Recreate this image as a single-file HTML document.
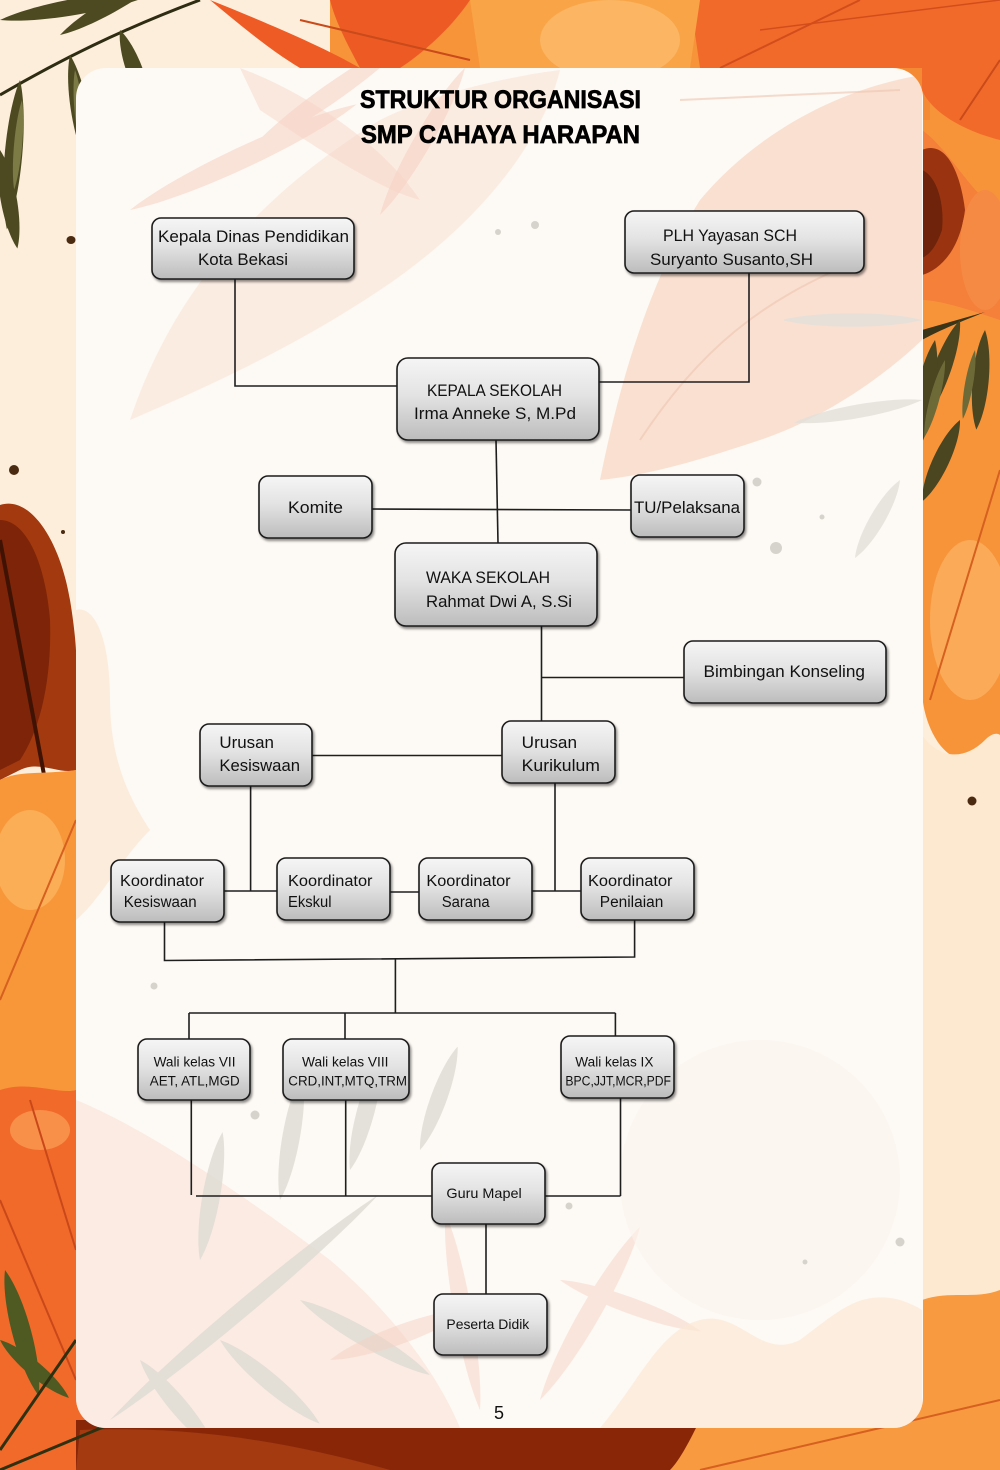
<!DOCTYPE html>
<html>
<head>
<meta charset="utf-8">
<style>
  html,body{margin:0;padding:0;background:#fdeedb;}
  svg{display:block;}
  text{font-family:"Liberation Sans",sans-serif;fill:#111;}
</style>
</head>
<body>
<svg width="1000" height="1470" viewBox="0 0 1000 1470" xmlns="http://www.w3.org/2000/svg">
  <defs>
    <linearGradient id="bx" x1="0" y1="0" x2="0" y2="1">
      <stop offset="0" stop-color="#f5f5f5"/>
      <stop offset="0.45" stop-color="#e3e3e3"/>
      <stop offset="1" stop-color="#bcbcbc"/>
    </linearGradient>
    <filter id="sh" x="-10%" y="-10%" width="125%" height="135%">
      <feDropShadow dx="1.5" dy="2.2" stdDeviation="1.3" flood-color="#000" flood-opacity="0.45"/>
    </filter>
    <path id="leaf" d="M0,0 C12,-9 38,-9 50,0 C38,9 12,9 0,0Z"/>
    <clipPath id="panelClip"><rect x="76" y="68" width="847" height="1360" rx="30"/></clipPath>
  </defs>

  <!-- ===== Background ===== -->
  <rect x="0" y="0" width="1000" height="1470" fill="#fdeedb"/>

  <!-- top orange band -->
  <path d="M330,0 L1000,0 L1000,740 C985,760 960,770 940,745 C925,725 922,700 922,690 L922,68 L330,68 Z" fill="#f7943a"/>
  <rect x="860" y="60" width="70" height="60" fill="#f58a35"/>
  <path d="M690,0 L1000,0 L1000,140 C960,130 930,110 922,90 L922,68 L700,68 Z" fill="#f26a2a"/>
  <path d="M470,0 L700,0 L690,68 L480,68 Z" fill="#f9a446"/>
  <ellipse cx="610" cy="40" rx="70" ry="40" fill="#fbb563"/>
  <!-- red-orange leaves top -->
  <path d="M210,0 C260,20 320,45 360,68 L300,68 C270,50 240,25 210,0Z" fill="#ef5b25"/>
  <path d="M330,0 L470,0 C450,30 420,55 400,68 L360,68 C345,40 335,20 330,0Z" fill="#ee5a24"/>
  <path d="M300,20 L470,60" stroke="#c94a1a" stroke-width="2" fill="none"/>
  <path d="M720,68 L860,0" stroke="#d24d1c" stroke-width="2" fill="none"/>
  <path d="M760,30 L1000,0" stroke="#d24d1c" stroke-width="1.5" fill="none"/>

  <!-- right strip -->
  <path d="M922,130 C950,150 975,200 1000,210 L1000,320 C970,310 940,300 922,300Z" fill="#f4803a"/>
  <path d="M922,150 C945,140 960,170 965,210 C960,250 940,270 922,275Z" fill="#9a3410"/>
  <path d="M922,170 C935,175 945,200 942,230 C935,250 928,255 922,258Z" fill="#6e230a"/>
  <ellipse cx="985" cy="250" rx="25" ry="60" fill="#f58a45"/>
  <ellipse cx="970" cy="620" rx="40" ry="80" fill="#fbb060" opacity="0.8"/>
  <path d="M960,120 L1000,60" stroke="#c94a1a" stroke-width="2"/>
  <path d="M930,700 L1000,470" stroke="#d6601f" stroke-width="2"/>
  <!-- olive leaves right -->
  <g fill="#4b4520">
    <path d="M922,330 L985,312 C965,320 940,330 922,340Z" fill="#3a3518"/>
    <use href="#leaf" transform="translate(960,320) rotate(110) scale(2.2,1.3)"/>
    <use href="#leaf" transform="translate(935,340) rotate(100) scale(2.4,1.4)"/>
    <use href="#leaf" transform="translate(985,330) rotate(95) scale(2.0,1.2)"/>
    <use href="#leaf" transform="translate(960,420) rotate(115) scale(1.8,1.2)"/>
  </g>
  <g fill="#6e6a38">
    <use href="#leaf" transform="translate(945,360) rotate(105) scale(1.6,0.7)"/>
    <use href="#leaf" transform="translate(975,350) rotate(100) scale(1.4,0.6)"/>
  </g>
  <!-- right lower cream -->
  <path d="M922,735 C940,760 965,760 985,740 C995,730 1000,735 1000,735 L1000,1300 C985,1290 960,1300 940,1310 L922,1320Z" fill="#fde9cf"/>
  <path d="M922,1300 C950,1290 975,1300 1000,1290 L1000,1470 L922,1470Z" fill="#f89a40"/>
  <ellipse cx="972" cy="801" rx="4.5" ry="4.5" fill="#4a2a10"/>

  <!-- left strip -->
  <path d="M0,505 C30,495 60,540 70,600 C75,630 76,650 76,650 L76,770 C60,775 40,760 20,770 C10,775 0,780 0,780Z" fill="#a3390e"/>
  <path d="M0,520 C25,520 45,560 50,620 C52,680 40,730 20,760 L0,770Z" fill="#7e2408"/>
  <path d="M0,540 L45,780" stroke="#3f1204" stroke-width="4"/>
  <path d="M0,780 C20,770 40,775 76,770 L76,1470 L0,1470Z" fill="#f8973a"/>
  <ellipse cx="30" cy="860" rx="35" ry="50" fill="#fbb05a" opacity="0.9"/>
  <path d="M0,1090 C30,1080 60,1095 76,1090 L76,1470 L0,1470Z" fill="#f26a2a"/>
  <ellipse cx="40" cy="1130" rx="30" ry="20" fill="#f8904a"/>
  <path d="M0,1000 L76,820" stroke="#d6601f" stroke-width="2"/>
  <path d="M0,1200 L76,1380" stroke="#c9481a" stroke-width="2"/>
  <path d="M30,1100 L76,1250" stroke="#c9481a" stroke-width="2"/>
  <g fill="#4f5a22">
    <use href="#leaf" transform="translate(5,1270) rotate(75) scale(2.6,1.4)"/>
    <use href="#leaf" transform="translate(0,1340) rotate(40) scale(1.8,1.1)"/>
  </g>
  <path d="M0,1450 L76,1340" stroke="#2e3010" stroke-width="3"/>

  <!-- top-left olive leaves -->
  <path d="M0,95 C60,60 120,30 200,0" stroke="#2e2c12" stroke-width="3" fill="none"/>
  <g fill="#4d4a22">
    <use href="#leaf" transform="translate(0,20) rotate(-10) scale(3.2,1.2)"/>
    <use href="#leaf" transform="translate(60,35) rotate(-30) scale(2.6,1.1)"/>
    <use href="#leaf" transform="translate(20,80) rotate(95) scale(3.0,1.3)"/>
    <use href="#leaf" transform="translate(70,55) rotate(80) scale(2.4,1.3)"/>
    <use href="#leaf" transform="translate(120,30) rotate(70) scale(1.8,1.2)"/>
    <use href="#leaf" transform="translate(0,150) rotate(80) scale(2.0,1.2)"/>
  </g>
  <g fill="#7c7a45">
    <use href="#leaf" transform="translate(75,70) rotate(85) scale(1.6,0.6)"/>
    <use href="#leaf" transform="translate(22,100) rotate(95) scale(1.8,0.6)"/>
  </g>
  <ellipse cx="71" cy="240" rx="4.5" ry="4" fill="#4a2a10"/>
  <ellipse cx="14" cy="470" rx="5" ry="5" fill="#4a2a10"/>
  <ellipse cx="63" cy="532" rx="2" ry="2" fill="#4a2a10"/>

  <!-- bottom strip -->
  <rect x="76" y="1390" width="924" height="80" fill="#f89a40"/>
  <rect x="76" y="1390" width="60" height="80" fill="#f26a2a"/>
  <path d="M76,1420 L700,1420 C690,1440 680,1460 670,1470 L76,1470Z" fill="#8a2608"/>
  <path d="M80,1430 C200,1425 300,1445 390,1470 L76,1470Z" fill="#a33a10"/>
  <path d="M700,1470 L1000,1400" stroke="#d6601f" stroke-width="2"/>
  <path d="M0,1470 L120,1420" stroke="#2e3010" stroke-width="3"/>

  <!-- ===== Panel ===== -->
  <rect x="76" y="68" width="847" height="1360" rx="30" fill="#fdf9f4"/>
  <g clip-path="url(#panelClip)">
    <!-- faint top leaves -->
    <path d="M130,420 C170,300 250,200 380,120 C440,90 520,75 560,70 C540,150 470,230 380,290 C290,350 200,390 130,420Z" fill="#f8dccd" opacity="0.45"/>
    <g fill="#f6d0c0" opacity="0.55">
      <use href="#leaf" transform="translate(130,210) rotate(-25) scale(5,1.6)"/>
      <use href="#leaf" transform="translate(250,150) rotate(-35) scale(4,1.4)"/>
      <use href="#leaf" transform="translate(380,215) rotate(-60) scale(3.4,1.3)"/>
    </g>
    <path d="M240,68 C300,90 380,140 420,200 C380,190 320,150 260,110Z" fill="#f7d3c4" opacity="0.45"/>
    <path d="M600,480 C620,380 650,280 700,200 C750,140 830,90 922,75 L922,340 C880,380 820,420 760,440 C700,460 650,475 600,480Z" fill="#f8d6c2" opacity="0.7"/>
    <path d="M640,440 C700,350 760,300 860,260" stroke="#efc4b0" stroke-width="2" fill="none" opacity="0.6"/>
    <path d="M680,100 L900,90" stroke="#efc4b0" stroke-width="2" fill="none" opacity="0.6"/>
    <!-- grey leaves right top -->
    <g fill="#e3e1db" opacity="0.8">
      <use href="#leaf" transform="translate(922,320) rotate(180) scale(2.8,1.0)"/>
      <use href="#leaf" transform="translate(922,400) rotate(170) scale(2.6,1.0)"/>
      <use href="#leaf" transform="translate(900,480) rotate(120) scale(1.8,1.1)"/>
    </g>
    <!-- left peach blob -->
    <path d="M76,610 C95,605 110,640 110,700 C110,760 130,800 150,830 C120,860 100,900 76,920Z" fill="#fbe3cc" opacity="0.6"/>
    <!-- bottom-left pink tint -->
    <path d="M76,1100 C150,1130 250,1200 330,1260 C400,1320 440,1380 460,1428 L76,1428Z" fill="#f9e0d4" opacity="0.55"/>
    <!-- bottom grey leaves -->
    <g fill="#dcdad2" opacity="0.75">
      <use href="#leaf" transform="translate(110,1420) rotate(-40) scale(7,1.2)"/>
      <use href="#leaf" transform="translate(200,1260) rotate(-80) scale(2.6,1.3)"/>
      <use href="#leaf" transform="translate(280,1200) rotate(-80) scale(2.6,1.3)"/>
      <use href="#leaf" transform="translate(350,1170) rotate(-75) scale(2.4,1.3)"/>
      <use href="#leaf" transform="translate(420,1150) rotate(-70) scale(2.2,1.2)"/>
      <use href="#leaf" transform="translate(300,1300) rotate(30) scale(3,1.3)"/>
      <use href="#leaf" transform="translate(220,1340) rotate(40) scale(2.6,1.3)"/>
      <use href="#leaf" transform="translate(140,1360) rotate(50) scale(2.4,1.3)"/>
    </g>
    <!-- bottom pink leaves -->
    <g fill="#f6d2c4" opacity="0.5">
      <use href="#leaf" transform="translate(540,1400) rotate(-60) scale(4,1.5)"/>
      <use href="#leaf" transform="translate(480,1410) rotate(-100) scale(4,1.3)"/>
      <use href="#leaf" transform="translate(560,1280) rotate(20) scale(3,1.2)"/>
      <use href="#leaf" transform="translate(330,1360) rotate(-20) scale(3,1.4)"/>
    </g>
    <!-- bottom right cream waves -->
    <path d="M600,1428 C640,1380 660,1330 700,1320 C740,1310 760,1360 800,1340 C840,1310 860,1290 900,1300 C915,1305 922,1310 922,1310 L922,1428Z" fill="#fce8d4" opacity="0.7"/>
    <ellipse cx="760" cy="1180" rx="140" ry="140" fill="#fbf4ec" opacity="0.6"/>
    <!-- dots -->
    <g fill="#d6d3cd">
      <circle cx="498" cy="232" r="3"/>
      <circle cx="535" cy="225" r="4"/>
      <circle cx="757" cy="482" r="4.5"/>
      <circle cx="822" cy="517" r="2.5"/>
      <circle cx="776" cy="548" r="6"/>
      <circle cx="154" cy="986" r="3.5"/>
      <circle cx="255" cy="1115" r="4.5"/>
      <circle cx="569" cy="1206" r="3.5"/>
      <circle cx="900" cy="1242" r="4.5"/>
      <circle cx="805" cy="1262" r="2.5"/>
    </g>
  </g>

  <!-- ===== Title ===== -->
  <text x="360" y="108" font-size="25" font-weight="bold" textLength="281" lengthAdjust="spacingAndGlyphs" style="fill:#000;stroke:#000;stroke-width:0.7">STRUKTUR ORGANISASI</text>
  <text x="361" y="143" font-size="25" font-weight="bold" textLength="279" lengthAdjust="spacingAndGlyphs" style="fill:#000;stroke:#000;stroke-width:0.7">SMP CAHAYA HARAPAN</text>

  <!-- ===== Connectors ===== -->
  <g stroke="#1e1e1e" stroke-width="1.6" fill="none">
    <path d="M235,279 V386 H397"/>
    <path d="M749,273 V382 H599"/>
    <path d="M496,440 L498,543"/>
    <path d="M372,509 L631,510"/>
    <path d="M541.5,626 V721"/>
    <path d="M541.5,677.5 H684"/>
    <path d="M312,755.5 H502"/>
    <path d="M250.6,786 V891"/>
    <path d="M555,783 V891"/>
    <path d="M224,891 H277"/>
    <path d="M390,892 H419"/>
    <path d="M532,891 H581"/>
    <path d="M164.5,922 V960.5 L634.6,957 V920"/>
    <path d="M395.4,959 V1013"/>
    <path d="M189,1013 H615.4"/>
    <path d="M189,1013 V1039"/>
    <path d="M345,1013 V1039"/>
    <path d="M615.4,1013 V1036"/>
    <path d="M191.3,1100 V1195"/>
    <path d="M345.7,1100 V1196"/>
    <path d="M620.5,1098 V1196"/>
    <path d="M196,1196 H432"/>
    <path d="M545,1196 H620.5"/>
    <path d="M486,1224 V1294"/>
  </g>

  <!-- ===== Boxes ===== -->
  <g fill="url(#bx)" stroke="#1c1c1c" stroke-width="1.6" filter="url(#sh)">
    <rect x="152" y="218" width="202" height="61" rx="9"/>
    <rect x="625" y="211" width="239" height="62" rx="9"/>
    <rect x="397" y="358" width="202" height="82" rx="11"/>
    <rect x="259" y="476" width="113" height="62" rx="9"/>
    <rect x="631" y="475" width="113" height="62" rx="9"/>
    <rect x="395" y="543" width="202" height="83" rx="11"/>
    <rect x="684" y="641" width="202" height="62" rx="9"/>
    <rect x="200" y="724" width="112" height="62" rx="9"/>
    <rect x="502" y="721" width="113" height="62" rx="9"/>
    <rect x="111" y="860" width="113" height="62" rx="9"/>
    <rect x="277" y="858" width="113" height="62" rx="9"/>
    <rect x="419" y="858" width="113" height="62" rx="9"/>
    <rect x="581" y="858" width="113" height="62" rx="9"/>
    <rect x="138" y="1039" width="112" height="61" rx="9"/>
    <rect x="283" y="1039" width="126" height="61" rx="9"/>
    <rect x="561" y="1036" width="113" height="62" rx="9"/>
    <rect x="432" y="1163" width="113" height="61" rx="9"/>
    <rect x="434" y="1294" width="113" height="61" rx="9"/>
  </g>

  <!-- ===== Box labels ===== -->
  <g font-size="17">
    <text x="158" y="242" textLength="191" lengthAdjust="spacingAndGlyphs">Kepala Dinas Pendidikan</text>
    <text x="198" y="265" textLength="90" lengthAdjust="spacingAndGlyphs">Kota Bekasi</text>
    <text x="663" y="241" textLength="134" lengthAdjust="spacingAndGlyphs">PLH Yayasan SCH</text>
    <text x="650" y="265" textLength="163" lengthAdjust="spacingAndGlyphs">Suryanto Susanto,SH</text>
    <text x="427" y="396" textLength="135" lengthAdjust="spacingAndGlyphs">KEPALA SEKOLAH</text>
    <text x="414" y="419" textLength="162" lengthAdjust="spacingAndGlyphs">Irma Anneke S, M.Pd</text>
    <text x="288" y="513" textLength="55" lengthAdjust="spacingAndGlyphs">Komite</text>
    <text x="634" y="513" textLength="106" lengthAdjust="spacingAndGlyphs">TU/Pelaksana</text>
    <text x="426" y="583" textLength="124" lengthAdjust="spacingAndGlyphs">WAKA SEKOLAH</text>
    <text x="426" y="607" textLength="146" lengthAdjust="spacingAndGlyphs">Rahmat Dwi A, S.Si</text>
    <text x="703.5" y="677" textLength="161.5" lengthAdjust="spacingAndGlyphs">Bimbingan Konseling</text>
    <text x="219.4" y="748" textLength="54.6" lengthAdjust="spacingAndGlyphs">Urusan</text>
    <text x="219.4" y="771" textLength="80.6" lengthAdjust="spacingAndGlyphs">Kesiswaan</text>
    <text x="521.7" y="748" textLength="55.3" lengthAdjust="spacingAndGlyphs">Urusan</text>
    <text x="521.7" y="771" textLength="78.3" lengthAdjust="spacingAndGlyphs">Kurikulum</text>
  </g>
  <g font-size="15.5">
    <text x="120" y="886" textLength="84" lengthAdjust="spacingAndGlyphs">Koordinator</text>
    <text x="123.7" y="907" textLength="73" lengthAdjust="spacingAndGlyphs">Kesiswaan</text>
    <text x="288" y="886" textLength="84.5" lengthAdjust="spacingAndGlyphs">Koordinator</text>
    <text x="288" y="907" textLength="43.5" lengthAdjust="spacingAndGlyphs">Ekskul</text>
    <text x="426.4" y="886" textLength="84.2" lengthAdjust="spacingAndGlyphs">Koordinator</text>
    <text x="441.7" y="907" textLength="47.9" lengthAdjust="spacingAndGlyphs">Sarana</text>
    <text x="588" y="886" textLength="84.5" lengthAdjust="spacingAndGlyphs">Koordinator</text>
    <text x="599.8" y="907" textLength="63.5" lengthAdjust="spacingAndGlyphs">Penilaian</text>
  </g>
  <g font-size="13.5">
    <text x="153.6" y="1066.5" textLength="81.9" lengthAdjust="spacingAndGlyphs">Wali kelas VII</text>
    <text x="149.8" y="1085.5" textLength="89.9" lengthAdjust="spacingAndGlyphs">AET, ATL,MGD</text>
    <text x="302" y="1066.5" textLength="86.5" lengthAdjust="spacingAndGlyphs">Wali kelas VIII</text>
    <text x="288.3" y="1085.5" textLength="118.7" lengthAdjust="spacingAndGlyphs">CRD,INT,MTQ,TRM</text>
    <text x="575.3" y="1066.5" textLength="78.1" lengthAdjust="spacingAndGlyphs">Wali kelas IX</text>
    <text x="565.4" y="1085.5" textLength="105.6" lengthAdjust="spacingAndGlyphs">BPC,JJT,MCR,PDF</text>
  </g>
  <g font-size="14">
    <text x="446.4" y="1198" textLength="75.3" lengthAdjust="spacingAndGlyphs">Guru Mapel</text>
    <text x="446.4" y="1329" textLength="82.9" lengthAdjust="spacingAndGlyphs">Peserta Didik</text>
  </g>
  <text x="499" y="1419" font-size="18" text-anchor="middle">5</text>
</svg>
</body>
</html>
